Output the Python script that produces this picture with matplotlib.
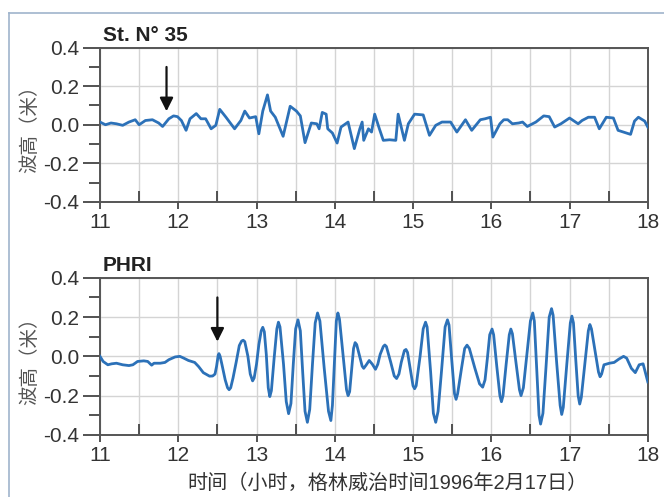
import numpy as np
import matplotlib.pyplot as plt
from matplotlib.ticker import MultipleLocator
from matplotlib.lines import Line2D

plt.rcParams['font.family'] = ['Liberation Sans', 'Noto Sans CJK SC', 'DejaVu Sans']

# St. No 35 record (hours, metres)
top_t = [11.00, 11.07, 11.14, 11.21, 11.29, 11.37, 11.45, 11.50, 11.58, 11.67,
         11.75, 11.80, 11.88, 11.94, 11.99, 12.04, 12.10, 12.15, 12.23, 12.29,
         12.35, 12.42, 12.48, 12.53, 12.61, 12.72, 12.80, 12.85, 12.91, 12.99,
         13.03, 13.08, 13.14, 13.18, 13.24, 13.34, 13.43, 13.51, 13.56, 13.62,
         13.70, 13.77, 13.80, 13.84, 13.89, 13.91, 13.97, 14.03, 14.08, 14.17,
         14.25, 14.32, 14.35, 14.37, 14.43, 14.47, 14.51, 14.57, 14.62, 14.70,
         14.78, 14.81, 14.89, 14.94, 15.02, 15.13, 15.21, 15.29, 15.37, 15.48,
         15.56, 15.67, 15.75, 15.86, 15.92, 15.99, 16.02, 16.11, 16.16, 16.21,
         16.27, 16.35, 16.40, 16.46, 16.57, 16.67, 16.74, 16.81, 16.89, 17.00,
         17.11, 17.16, 17.24, 17.32, 17.38, 17.47, 17.56, 17.62, 17.78, 17.83,
         17.88, 17.96, 18.00]
top_v = [0.014, 0.000, 0.009, 0.005, -0.003, 0.014, 0.026, 0.000, 0.022, 0.026,
         0.009, -0.009, 0.031, 0.046, 0.042, 0.022, -0.029, 0.031, 0.058, 0.031,
         0.031, -0.021, -0.003, 0.080, 0.039, -0.021, 0.022, 0.071, 0.035, 0.042,
         -0.047, 0.071, 0.155, 0.071, 0.039, -0.060, 0.096, 0.071, 0.046, -0.093,
         0.009, 0.005, -0.021, 0.064, 0.055, -0.021, -0.043, -0.095, -0.012, 0.014,
         -0.124, -0.021, 0.014, -0.081, -0.021, -0.038, 0.055, -0.021, -0.081, -0.078,
         -0.081, 0.055, -0.081, 0.005, 0.055, 0.051, -0.055, -0.003, 0.014, 0.014,
         -0.038, 0.026, -0.029, 0.026, 0.031, 0.039, -0.064, 0.005, 0.026, 0.026,
         0.005, 0.009, 0.014, -0.009, 0.014, 0.046, 0.042, -0.012, 0.005, 0.035,
         0.005, 0.022, 0.039, 0.039, -0.021, 0.039, 0.035, -0.029, -0.050, 0.019,
         0.039, 0.019, -0.012]

# PHRI record (hours, metres)
bot_t = [11.00, 11.04, 11.10, 11.15, 11.21, 11.29, 11.37, 11.42, 11.48, 11.56,
         11.61, 11.66, 11.69, 11.77, 11.83, 11.88, 11.96, 12.02, 12.07, 12.13,
         12.21, 12.26, 12.32, 12.40, 12.44, 12.47, 12.49, 12.51, 12.52, 12.535,
         12.56, 12.60, 12.63, 12.65, 12.67, 12.70, 12.74, 12.78, 12.81, 12.83,
         12.85, 12.89, 12.92, 12.95, 12.97, 13.00, 13.03, 13.06, 13.08, 13.10,
         13.125, 13.15, 13.17, 13.19, 13.225, 13.26, 13.28, 13.30, 13.345, 13.38,
         13.41, 13.44, 13.47, 13.50, 13.53, 13.56, 13.59, 13.62, 13.65, 13.68,
         13.715, 13.75, 13.78, 13.81, 13.865, 13.92, 13.95, 13.97, 13.995, 14.02,
         14.04, 14.06, 14.105, 14.15, 14.17, 14.19, 14.215, 14.24, 14.26, 14.28,
         14.315, 14.35, 14.37, 14.40, 14.44, 14.48, 14.52, 14.55, 14.58, 14.62,
         14.64, 14.66, 14.715, 14.76, 14.79, 14.82, 14.85, 14.89, 14.91, 14.93,
         14.965, 15.00, 15.02, 15.04, 15.09, 15.13, 15.16, 15.18, 15.225, 15.26,
         15.29, 15.32, 15.365, 15.41, 15.44, 15.46, 15.495, 15.53, 15.55, 15.57,
         15.62, 15.66, 15.69, 15.72, 15.79, 15.85, 15.89, 15.92, 15.95, 15.98,
         16.01, 16.03, 16.07, 16.11, 16.13, 16.15, 16.19, 16.23, 16.25, 16.27,
         16.315, 16.36, 16.38, 16.41, 16.455, 16.50, 16.53, 16.55, 16.58, 16.61,
         16.63, 16.66, 16.70, 16.74, 16.77, 16.79, 16.835, 16.88, 16.90, 16.92,
         16.965, 17.01, 17.03, 17.05, 17.08, 17.11, 17.13, 17.15, 17.195, 17.24,
         17.26, 17.28, 17.325, 17.37, 17.39, 17.41, 17.44, 17.51, 17.57, 17.63,
         17.69, 17.73, 17.79, 17.84, 17.89, 17.94, 18.00]
bot_v = [0.000, -0.026, -0.043, -0.038, -0.035, -0.043, -0.047, -0.043, -0.026, -0.023,
         -0.026, -0.045, -0.035, -0.035, -0.031, -0.017, -0.003, 0.000, -0.009, -0.021,
         -0.031, -0.052, -0.083, -0.101, -0.100, -0.090, -0.050, 0.005, 0.014, 0.000,
         -0.045, -0.120, -0.160, -0.170, -0.160, -0.110, -0.030, 0.055, 0.078, 0.082,
         0.075, 0.000, -0.090, -0.125, -0.110, -0.040, 0.060, 0.130, 0.148, 0.125,
         0.010, -0.160, -0.205, -0.175, -0.010, 0.140, 0.174, 0.150, -0.040, -0.230,
         -0.292, -0.240, -0.040, 0.140, 0.186, 0.130, -0.080, -0.280, -0.336, -0.270,
         -0.040, 0.170, 0.221, 0.180, -0.060, -0.280, -0.327, -0.250, -0.040, 0.180,
         0.221, 0.190, 0.010, -0.170, -0.200, -0.180, -0.070, 0.040, 0.070, 0.060,
         0.005, -0.050, -0.061, -0.045, -0.021, -0.040, -0.066, -0.040, 0.010, 0.050,
         0.058, 0.050, -0.030, -0.100, -0.113, -0.090, -0.030, 0.030, 0.035, 0.020,
         -0.065, -0.150, -0.165, -0.150, 0.000, 0.140, 0.174, 0.150, -0.080, -0.290,
         -0.336, -0.280, -0.070, 0.150, 0.186, 0.160, -0.020, -0.190, -0.219, -0.190,
         -0.060, 0.040, 0.057, 0.040, -0.060, -0.140, -0.157, -0.120, -0.010, 0.110,
         0.139, 0.110, -0.050, -0.200, -0.231, -0.200, -0.040, 0.110, 0.139, 0.115,
         -0.030, -0.170, -0.200, -0.160, 0.010, 0.180, 0.221, 0.180, -0.060, -0.300,
         -0.345, -0.290, -0.050, 0.200, 0.243, 0.210, -0.030, -0.250, -0.296, -0.260,
         -0.040, 0.170, 0.205, 0.170, -0.020, -0.200, -0.243, -0.210, -0.040, 0.130,
         0.162, 0.140, 0.030, -0.080, -0.104, -0.090, -0.043, -0.035, -0.031, -0.014,
         0.000, -0.009, -0.061, -0.083, -0.043, -0.038, -0.130]

titles = ['St. N° 35', 'PHRI']
arrow_t = [11.85, 12.5]
arrow_from = [0.30, 0.30]
arrow_to = [0.07, 0.075]
xticks = [11, 12, 13, 14, 15, 16, 17, 18]
yticks = [-0.4, -0.2, 0.0, 0.2, 0.4]

line_col = '#2c71b8'
txt_col = '#333333'

fig = plt.figure(figsize=(6.64, 4.97), dpi=100)
ax1 = fig.add_axes([0.1506, 0.594, 0.825, 0.310])
ax2 = fig.add_axes([0.1506, 0.125, 0.825, 0.316])

series = [(top_t, top_v), (bot_t, bot_v)]
for i, ax in enumerate([ax1, ax2]):
    t, v = series[i]
    ax.plot(t, v, color=line_col, lw=2.0, solid_joinstyle='round', zorder=3)
    ax.set_xlim(11, 18)
    ax.set_ylim(-0.4, 0.4)
    ax.set_xticks(xticks)
    ax.set_yticks(yticks)
    ax.set_yticklabels(['%.1f' % y for y in yticks])
    ax.xaxis.set_minor_locator(MultipleLocator(0.5))
    ax.yaxis.set_minor_locator(MultipleLocator(0.1))
    ax.grid(True, which='major', axis='y', color='#d4d4d4', lw=1)
    ax.grid(True, which='both', axis='x', color='#d4d4d4', lw=1)
    ax.set_axisbelow(True)
    ax.tick_params(axis='y', which='major', direction='out', length=12, width=1.3,
                   color='#444444', labelsize=15, labelcolor=txt_col, pad=3)
    ax.tick_params(axis='y', which='minor', direction='out', length=8, width=1.3,
                   color='#444444')
    ax.tick_params(axis='x', which='major', direction='out', length=5, width=1.3,
                   color='#444444', labelsize=15, labelcolor=txt_col, pad=3)
    ax.tick_params(axis='x', which='minor', direction='in', length=8, width=1.3,
                   color='#444444')
    for s in ax.spines.values():
        s.set_color('#555555')
        s.set_linewidth(1.4)
    ax.set_title(titles[i], loc='left', fontsize=15, fontweight='bold',
                 color='#222222', pad=5, x=0.005)
    ax.set_ylabel('波高（米）', fontsize=14, color='#555555', labelpad=3)
    ax.annotate('', xy=(arrow_t[i], arrow_to[i]), xytext=(arrow_t[i], arrow_from[i]),
                arrowprops=dict(arrowstyle='-|>', color='#111111', lw=1.6,
                                mutation_scale=20, shrinkA=0, shrinkB=0), zorder=4)

ax2.set_xlabel('时间（小时，格林威治时间1996年2月17日）', fontsize=14.5, color=txt_col)
ax2.xaxis.set_label_coords(0.525, -0.245)

# thin frame of the original figure panel
fig.add_artist(Line2D([0.014, 1.0], [0.974, 0.974], transform=fig.transFigure,
                      color='#9fb4cc', lw=1.2))
fig.add_artist(Line2D([0.014, 0.014], [0.0, 0.974], transform=fig.transFigure,
                      color='#9fb4cc', lw=1.2))

fig.savefig('out.png', dpi=100)
